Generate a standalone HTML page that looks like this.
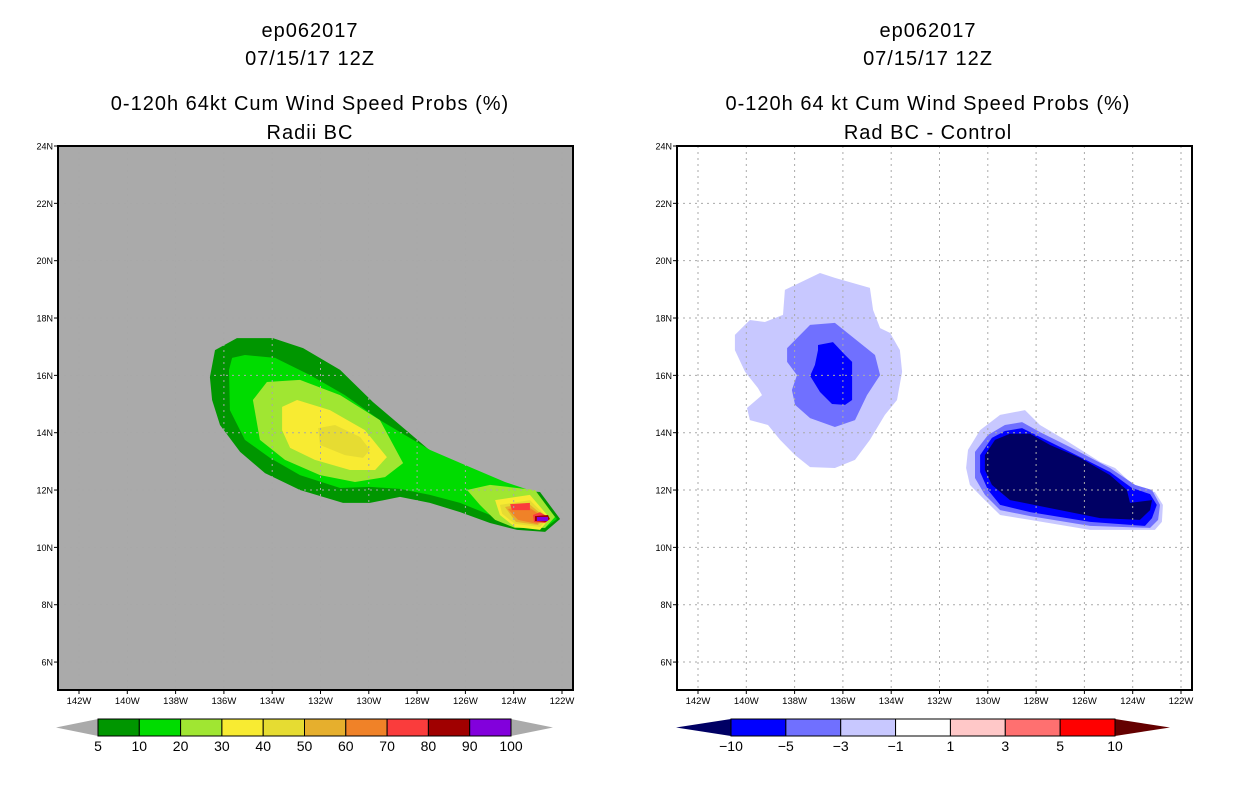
<!DOCTYPE html>
<html><head><meta charset="utf-8"><style>
html,body{margin:0;padding:0;background:#fff;width:1236px;height:800px;overflow:hidden}
svg{display:block}
text{font-family:"Liberation Sans",sans-serif}
</style></head><body>
<svg id="chart" width="1236" height="800" viewBox="0 0 1236 800" xmlns="http://www.w3.org/2000/svg"></svg>
<script>
// ---- data ----
const lonTicks = [-142,-140,-138,-136,-134,-132,-130,-128,-126,-124,-122];
const latTicks = [6,8,10,12,14,16,18,20,22,24];
const leftLevels = ['5','10','20','30','40','50','60','70','80','90','100'];
const leftColors = ['#009600','#00dc00','#a0e632','#f8eb32','#e6dc32','#e6af2d','#f08228','#fa3c3c','#a00000','#8200dc'];
const rightLevels = ['-10','-5','-3','-1','1','3','5','10'];
const rightColors = ['#0000ff','#7070ff','#c8c8ff','#ffffff','#ffc8c8','#ff7070','#ff0000'];
// contour polygons [lon,lat], with level index
const leftContours = [
 {lev:0, pts:[[-136.58,15.94],[-136.37,16.88],[-135.46,17.30],[-133.97,17.30],[-132.72,16.95],[-131.19,16.19],[-129.83,15.07],[-127.34,13.29],[-125.11,12.45],[-124.03,12.00],[-122.91,11.93],[-122.08,10.99],[-122.70,10.54],[-123.86,10.61],[-124.98,10.85],[-126.22,11.23],[-127.47,11.55],[-128.71,11.76],[-129.95,11.55],[-131.07,11.55],[-132.85,12.00],[-134.30,12.59],[-135.33,13.33],[-136.16,14.27],[-136.49,15.14]]},
 {lev:1, pts:[[-135.79,16.19],[-135.66,16.61],[-135.13,16.71],[-133.88,16.61],[-132.43,16.01],[-130.99,15.31],[-129.54,14.44],[-127.47,13.40],[-125.81,12.80],[-124.36,12.28],[-123.12,11.93],[-122.21,10.99],[-122.70,10.68],[-123.74,10.82],[-124.98,11.13],[-126.22,11.55],[-127.47,11.83],[-128.71,12.04],[-129.95,12.11],[-131.19,12.07],[-132.85,12.52],[-134.09,13.12],[-135.13,13.75],[-135.75,14.79]]},
 {lev:2, pts:[[-134.80,15.14],[-134.22,15.77],[-132.85,15.84],[-131.19,15.31],[-129.54,14.44],[-128.58,12.94],[-129.33,12.45],[-130.57,12.28],[-132.02,12.52],[-133.47,13.05],[-134.51,13.75]]},
 {lev:2, pts:[[-125.93,12.00],[-124.98,12.18],[-123.12,12.00],[-122.29,11.06],[-122.70,10.68],[-123.95,10.68],[-124.77,10.96],[-125.40,11.48]]},
 {lev:3, pts:[[-133.59,14.90],[-132.97,15.14],[-131.61,14.79],[-130.16,14.09],[-129.25,13.15],[-129.74,12.70],[-130.78,12.70],[-132.23,13.05],[-133.26,13.47],[-133.59,14.09]]},
 {lev:3, pts:[[-124.77,11.65],[-123.33,11.83],[-122.50,11.02],[-122.91,10.61],[-123.95,10.71],[-124.57,11.13]]},
 {lev:4, pts:[[-132.10,14.16],[-131.40,14.27],[-130.36,13.85],[-129.95,13.40],[-130.24,13.12],[-130.99,13.22],[-132.02,13.57]]},
 {lev:4, pts:[[-124.57,11.48],[-123.33,11.65],[-122.58,11.02],[-122.91,10.71],[-123.95,10.82],[-124.48,11.17]]},
 {lev:5, pts:[[-124.36,11.41],[-123.41,11.55],[-122.66,11.02],[-123.00,10.78],[-123.91,10.89]]},
 {lev:6, pts:[[-124.24,11.34],[-123.45,11.44],[-122.70,11.02],[-123.04,10.82],[-123.82,10.96]]},
 {lev:7, pts:[[-124.15,11.51],[-123.33,11.55],[-123.33,11.30],[-124.07,11.30]]},
 {lev:7, pts:[[-123.20,11.13],[-122.91,11.23],[-122.50,11.02],[-122.70,10.85],[-123.16,10.89]]},
 {lev:8, pts:[[-123.12,11.09],[-122.58,11.13],[-122.50,10.99],[-122.66,10.89],[-123.12,10.92]]},
 {lev:9, pts:[[-123.04,11.06],[-122.58,11.06],[-122.58,10.92],[-123.04,10.92]]}
];
const rightContours = [
 {col:'#c8c8ff', pts:[[-140.47,17.41],[-139.85,17.93],[-139.23,17.86],[-138.48,18.11],[-138.40,18.98],[-136.95,19.57],[-136.33,19.40],[-134.88,19.05],[-134.75,18.28],[-134.46,17.65],[-134.05,17.48],[-133.64,16.88],[-133.55,16.12],[-133.76,15.14],[-134.26,14.62],[-134.88,13.75],[-135.50,13.05],[-136.33,12.77],[-137.36,12.80],[-137.98,13.22],[-138.60,13.75],[-139.10,14.27],[-139.85,14.44],[-139.97,14.86],[-139.35,15.31],[-139.52,15.56],[-140.05,16.12],[-140.47,16.88]]},
 {col:'#7070ff', pts:[[-138.31,16.95],[-137.36,17.76],[-136.33,17.83],[-135.71,17.41],[-134.67,16.71],[-134.46,16.01],[-135.00,15.31],[-135.50,14.44],[-136.33,14.20],[-137.36,14.51],[-137.98,14.97],[-138.11,15.49],[-137.90,16.01],[-138.31,16.47]]},
 {col:'#0000ff', pts:[[-137.03,17.06],[-136.41,17.16],[-135.91,16.71],[-135.62,16.47],[-135.62,15.14],[-135.91,14.97],[-136.45,15.00],[-136.95,15.42],[-137.36,15.98],[-137.16,16.36],[-137.03,16.88]]},
 {col:'#c8c8ff', pts:[[-130.82,13.40],[-130.32,14.09],[-129.49,14.62],[-128.46,14.79],[-127.84,14.27],[-126.80,13.75],[-125.35,12.98],[-124.73,12.77],[-124.11,12.28],[-123.70,12.00],[-123.08,11.93],[-122.75,11.48],[-122.79,10.89],[-123.08,10.61],[-125.77,10.61],[-128.25,10.96],[-129.49,11.13],[-130.12,11.65],[-130.74,12.18],[-130.90,12.77]]},
 {col:'#7070ff', pts:[[-130.53,13.33],[-129.99,13.92],[-129.29,14.27],[-128.58,14.37],[-127.84,14.02],[-126.60,13.50],[-124.94,12.77],[-123.90,12.18],[-123.20,12.00],[-122.87,11.48],[-122.95,10.96],[-123.28,10.68],[-125.77,10.75],[-128.25,11.09],[-129.49,11.30],[-130.12,11.83],[-130.53,12.42]]},
 {col:'#0000ff', pts:[[-130.32,13.22],[-129.83,13.82],[-129.29,14.06],[-128.58,14.16],[-127.84,13.85],[-126.60,13.33],[-124.94,12.63],[-124.03,12.07],[-123.28,11.86],[-123.00,11.48],[-123.20,11.02],[-123.49,10.75],[-125.77,10.89],[-128.25,11.23],[-129.49,11.48],[-129.99,12.00],[-130.32,12.63]]},
 {col:'#000064', pts:[[-130.12,13.22],[-129.70,13.75],[-129.08,13.96],[-128.25,13.96],[-127.42,13.57],[-126.18,13.12],[-124.94,12.52],[-124.24,12.00],[-124.11,11.55],[-123.20,11.65],[-123.28,11.30],[-123.70,10.96],[-125.35,11.02],[-127.42,11.37],[-129.08,11.65],[-129.83,12.18],[-130.12,12.70]]}
];
// ---- drawing ----
const svg = document.getElementById('chart');
const NS = 'http://www.w3.org/2000/svg';
function mk(tag, attrs, parent){const e=document.createElementNS(NS,tag);for(const k in attrs)e.setAttribute(k,attrs[k]);(parent||svg).appendChild(e);return e;}
function txt(x,y,s,size,anchor,parent){const t=mk('text',{x:x,y:y,'font-size':size,'text-anchor':anchor||'middle',fill:'#000'},parent);t.textContent=s;return t;}

function panel(ox, bg, name){
  const X0=ox, X1=ox+515, Y0=146, Y1=690;
  const xs = lon => ox + 21 + (lon+142)*24.15;
  const ys = lat => Y0 + (24-lat)*28.67;
  const g = mk('g',{});
  
  
  mk('rect',{x:X0,y:Y0,width:X1-X0,height:Y1-Y0,fill:bg},g);
  return {g,xs,ys,X0,X1,Y0,Y1};
}
function grid(p, color){
  const gg = mk('g',{stroke:color,'stroke-width':1,'stroke-dasharray':'2,4'},p.g);
  
  
  lonTicks.forEach(l=>{const x=p.xs(l);mk('line',{x1:x,x2:x,y1:p.Y0,y2:p.Y1},gg);});
  latTicks.forEach(l=>{const y=p.ys(l);mk('line',{x1:p.X0,x2:p.X1,y1:y,y2:y},gg);});
}
function axes(p){
  mk('rect',{x:p.X0,y:p.Y0,width:p.X1-p.X0,height:p.Y1-p.Y0,fill:'none',stroke:'#000','stroke-width':2},p.g);
  lonTicks.forEach(l=>{const x=p.xs(l);
    mk('line',{x1:x,x2:x,y1:p.Y1,y2:p.Y1+4,stroke:'#000'},p.g);
    const t=txt(x,p.Y1+14,(-l)+'W',9.5,'middle',p.g);
    
    });
  latTicks.forEach(l=>{const y=p.ys(l);
    mk('line',{x1:p.X0-4,x2:p.X0,y1:y,y2:y,stroke:'#000'},p.g);
    const t=txt(p.X0-5,y+3.5,l+'N',9,'end',p.g);
    
    });
}
function poly(p, pts, fill){
  const d = pts.map(q=>p.xs(q[0]).toFixed(1)+','+p.ys(q[1]).toFixed(1)).join(' ');
  return mk('polygon',{points:d,fill:fill},p.g);
}

// left panel
const L = panel(58,'#aaaaaa','left-map-panel');
leftContours.forEach(c=>{const e=poly(L,c.pts,leftColors[c.lev]);
  
  });
grid(L,'#a8a8a8');
axes(L);
// right panel
const R = panel(677,'#ffffff','right-map-panel');
rightContours.forEach(c=>{const e=poly(R,c.pts,c.col);
  
  });
grid(R,'#aaaaaa');
axes(R);

// titles
function titles(cx, lines, name){
  const g=mk('g',{});
  
  
  const ys=[37,65,110,139];
  lines.forEach((s,i)=>{txt(cx,ys[i],s,20,'middle',g).setAttribute('letter-spacing','1');});
}
titles(310,['ep062017','07/15/17 12Z','0-120h 64kt Cum Wind Speed Probs (%)','Radii BC'],'left-title');
titles(928,['ep062017','07/15/17 12Z','0-120h 64 kt Cum Wind Speed Probs (%)','Rad BC - Control'],'right-title');

// colorbars
function colorbar(x0,x1,tipL,tipR,y0,y1,colors,labels,lcol,rcol,name){
  const g=mk('g',{});
  
  
  const ym=(y0+y1)/2, w=(x1-x0)/colors.length;
  mk('polygon',{points:`${tipL},${ym} ${x0},${y0} ${x0},${y1}`,fill:lcol},g);
  mk('polygon',{points:`${tipR},${ym} ${x1},${y0} ${x1},${y1}`,fill:rcol},g);
  colors.forEach((c,i)=>{mk('rect',{x:x0+i*w,y:y0,width:w,height:y1-y0,fill:c,stroke:'#000','stroke-width':1},g);});
  labels.forEach((s,i)=>{const t=txt(x0+i*w,y1+15,s.replace('-','\u2212'),14,'middle',g);
    
    });
}
colorbar(98,511,56,553,719,736,leftColors,leftLevels,'#aaaaaa','#aaaaaa','left-colorbar');
colorbar(731,1115,676,1170,719,736,rightColors,rightLevels,'#000064','#640000','right-colorbar');
</script>
</body></html>
